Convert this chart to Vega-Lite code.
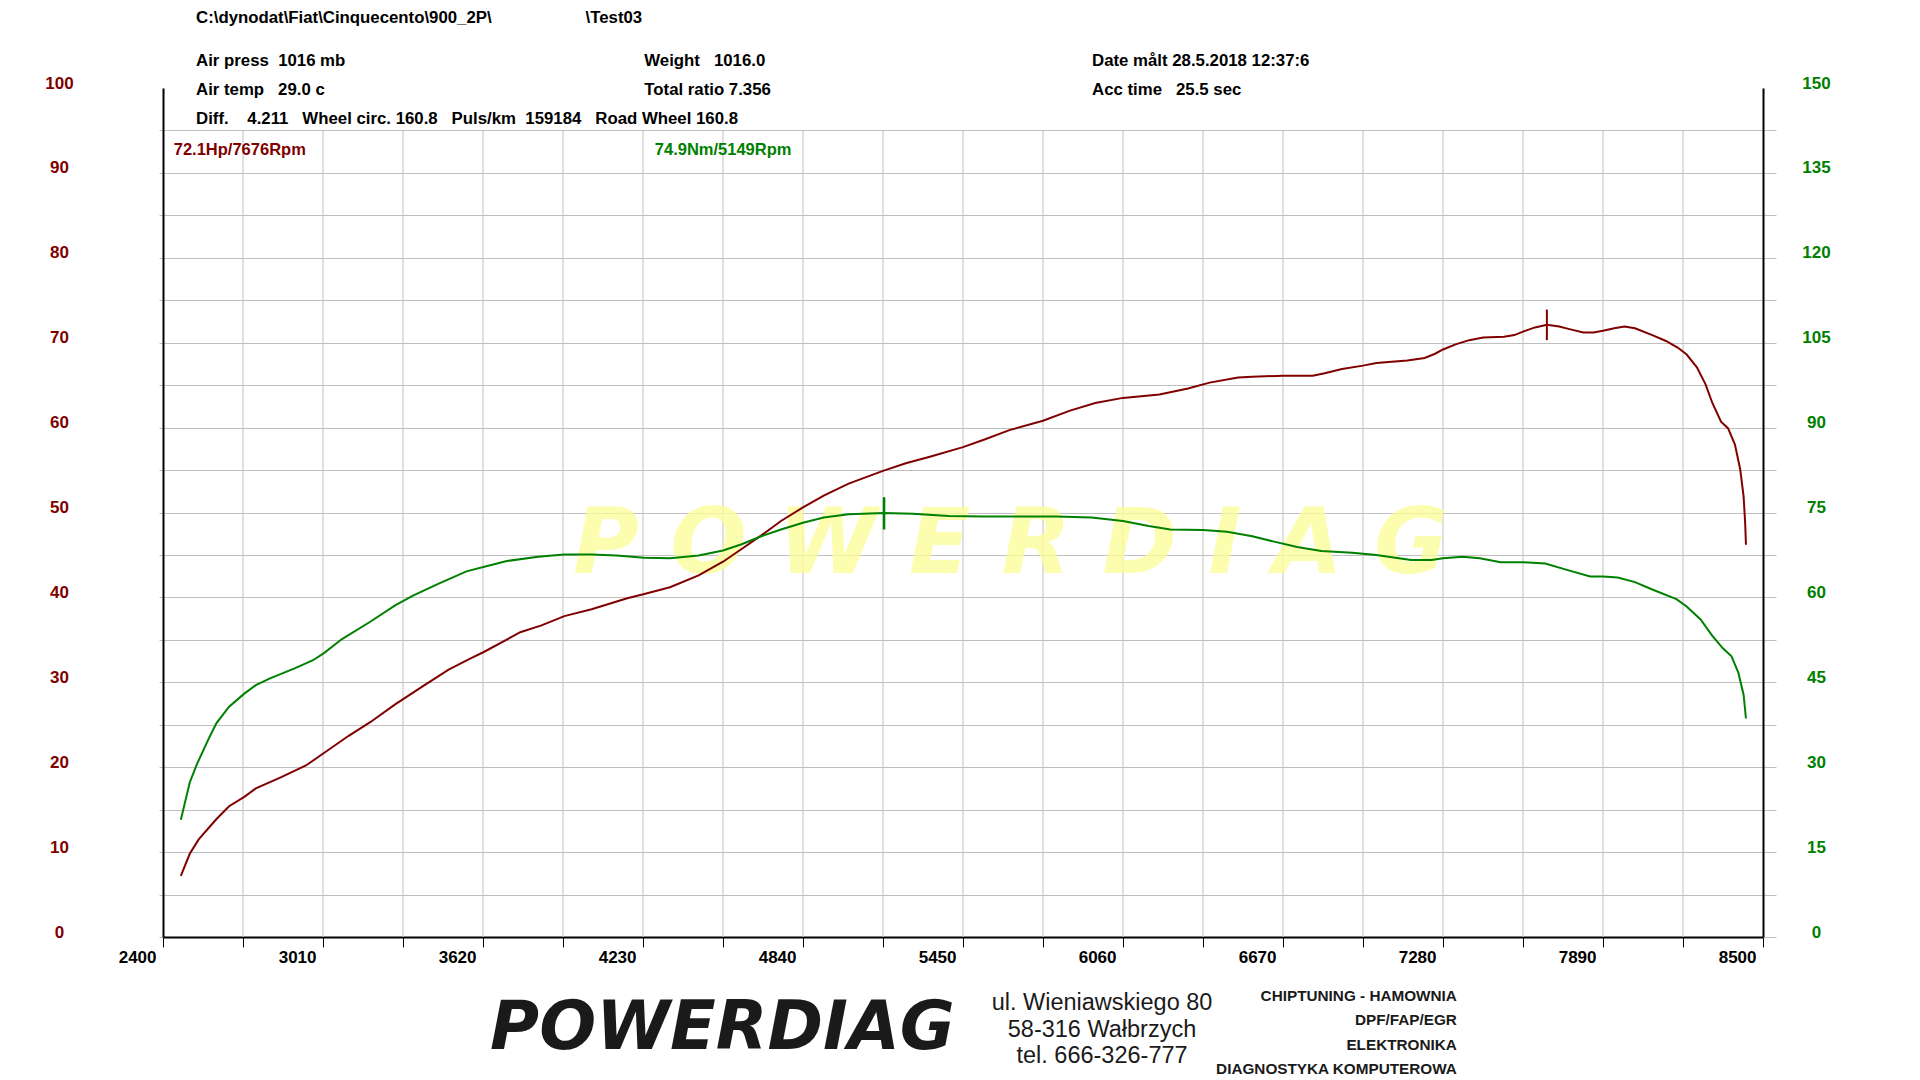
{
  "$schema": "https://vega.github.io/schema/vega-lite/v6.json",
  "width": 1600,
  "height": 849,
  "autosize": {"type": "none"},
  "padding": {"left": 163, "top": 88, "right": 157, "bottom": 143},
  "background": "white",
  "config": {"view": {"stroke": null}, "font": "Liberation Sans"},
  "resolve": {"scale": {"y": "independent"}},
  "layer": [
    {
      "layer": [
        {
          "data": {"values": [{"rpm":2705},{"rpm":3010},{"rpm":3315},{"rpm":3620},{"rpm":3925},{"rpm":4230},{"rpm":4535},{"rpm":4840},{"rpm":5145},{"rpm":5450},{"rpm":5755},{"rpm":6060},{"rpm":6365},{"rpm":6670},{"rpm":6975},{"rpm":7280},{"rpm":7585},{"rpm":7890},{"rpm":8195}]},
          "mark": {"type": "rule", "color": "#c0c0c0", "strokeWidth": 1},
          "encoding": {
            "x": {"field": "rpm", "type": "quantitative", "scale": {"domain": [2400, 8500], "nice": false}, "title": null},
            "y": {"datum": 0, "type": "quantitative", "scale": {"domain": [0, 100], "nice": false}, "title": null},
            "y2": {"datum": 95}
          }
        },
        {
          "data": {"values": [{"rpm": 3963, "hp": 42.9, "text": "P O W E R D I A G"}]},
          "mark": {"type": "text", "align": "left", "baseline": "alphabetic", "font": "DejaVu Sans", "fontSize": 90, "fontWeight": "bold", "fontStyle": "italic", "color": "#fdfd9c", "opacity": 0.8},
          "encoding": {
            "x": {"field": "rpm", "type": "quantitative", "scale": {"domain": [2400, 8500], "nice": false}, "title": null},
            "y": {"field": "hp", "type": "quantitative", "scale": {"domain": [0, 100], "nice": false}, "title": null},
            "text": {"field": "text"}
          }
        },
        {
          "data": {"values": [
            {"rpm":2468,"hp":7.2},{"rpm":2502,"hp":9.8},{"rpm":2536,"hp":11.5},{"rpm":2604,"hp":13.9},{"rpm":2652,"hp":15.4},{"rpm":2710,"hp":16.5},{"rpm":2754,"hp":17.5},{"rpm":2849,"hp":18.8},{"rpm":2945,"hp":20.2},{"rpm":3015,"hp":21.7},{"rpm":3108,"hp":23.7},{"rpm":3190,"hp":25.3},{"rpm":3285,"hp":27.4},{"rpm":3320,"hp":28.1},{"rpm":3394,"hp":29.6},{"rpm":3489,"hp":31.5},{"rpm":3571,"hp":32.8},{"rpm":3625,"hp":33.6},{"rpm":3762,"hp":35.9},{"rpm":3843,"hp":36.7},{"rpm":3930,"hp":37.8},{"rpm":4034,"hp":38.6},{"rpm":4170,"hp":39.9},{"rpm":4235,"hp":40.4},{"rpm":4333,"hp":41.2},{"rpm":4442,"hp":42.6},{"rpm":4535,"hp":44.2},{"rpm":4606,"hp":45.7},{"rpm":4681,"hp":47.3},{"rpm":4756,"hp":49.0},{"rpm":4840,"hp":50.6},{"rpm":4919,"hp":52.0},{"rpm":5014,"hp":53.4},{"rpm":5145,"hp":54.9},{"rpm":5232,"hp":55.8},{"rpm":5327,"hp":56.6},{"rpm":5450,"hp":57.7},{"rpm":5532,"hp":58.6},{"rpm":5627,"hp":59.7},{"rpm":5755,"hp":60.8},{"rpm":5858,"hp":62.0},{"rpm":5954,"hp":62.9},{"rpm":6060,"hp":63.5},{"rpm":6199,"hp":63.9},{"rpm":6308,"hp":64.6},{"rpm":6390,"hp":65.3},{"rpm":6499,"hp":65.9},{"rpm":6553,"hp":66.0},{"rpm":6670,"hp":66.1},{"rpm":6783,"hp":66.1},{"rpm":6829,"hp":66.4},{"rpm":6895,"hp":66.9},{"rpm":6975,"hp":67.3},{"rpm":7026,"hp":67.6},{"rpm":7144,"hp":67.9},{"rpm":7210,"hp":68.2},{"rpm":7250,"hp":68.7},{"rpm":7280,"hp":69.2},{"rpm":7328,"hp":69.8},{"rpm":7380,"hp":70.3},{"rpm":7433,"hp":70.6},{"rpm":7513,"hp":70.7},{"rpm":7552,"hp":70.9},{"rpm":7585,"hp":71.3},{"rpm":7631,"hp":71.8},{"rpm":7676,"hp":72.1},{"rpm":7723,"hp":71.9},{"rpm":7762,"hp":71.6},{"rpm":7815,"hp":71.2},{"rpm":7854,"hp":71.2},{"rpm":7890,"hp":71.4},{"rpm":7933,"hp":71.7},{"rpm":7972,"hp":71.9},{"rpm":8012,"hp":71.7},{"rpm":8078,"hp":70.9},{"rpm":8130,"hp":70.2},{"rpm":8176,"hp":69.4},{"rpm":8209,"hp":68.6},{"rpm":8248,"hp":67.1},{"rpm":8281,"hp":65.1},{"rpm":8307,"hp":62.9},{"rpm":8340,"hp":60.7},{"rpm":8367,"hp":59.9},{"rpm":8393,"hp":58.0},{"rpm":8413,"hp":55.1},{"rpm":8426,"hp":51.9},{"rpm":8432,"hp":48.8},{"rpm":8435,"hp":46.2}
          ]},
          "mark": {"type": "line", "color": "#800000", "strokeWidth": 2},
          "encoding": {
            "x": {
              "field": "rpm", "type": "quantitative",
              "scale": {"domain": [2400, 8500], "nice": false},
              "axis": {
                "orient": "bottom", "title": null,
                "values": [2400,2705,3010,3315,3620,3925,4230,4535,4840,5145,5450,5755,6060,6365,6670,6975,7280,7585,7890,8195,8500],
                "format": "d",
                "labelExpr": "(datum.value - 2400) % 610 == 0 ? datum.label : ''",
                "labelAlign": "right", "labelBaseline": "alphabetic", "labelOffset": -7, "labelPadding": 15,
                "labelFont": "Liberation Sans", "labelFontSize": 17, "labelFontWeight": "bold", "labelColor": "black",
                "labelOverlap": false, "labelFlush": false, "labelBound": false,
                "ticks": true, "tickSize": 10, "tickColor": "black", "tickWidth": 1,
                "grid": false, "domain": true, "domainColor": "black", "domainWidth": 2
              }
            },
            "y": {
              "field": "hp", "type": "quantitative",
              "scale": {"domain": [0, 100], "nice": false},
              "axis": {
                "orient": "left", "title": "Hp", "titleAngle": 0, "titleX": -108, "titleY": -50,
                "titleAlign": "center", "titleBaseline": "alphabetic",
                "titleFont": "Liberation Sans", "titleFontSize": 16, "titleFontWeight": "bold", "titleColor": "black",
                "values": [0,5,10,15,20,25,30,35,40,45,50,55,60,65,70,75,80,85,90,95,100],
                "labelExpr": "datum.value % 10 == 0 ? datum.label : ''",
                "labelAlign": "center", "labelBaseline": "alphabetic", "labelPadding": 100,
                "labelFont": "Liberation Sans", "labelFontSize": 17, "labelFontWeight": "bold", "labelColor": "#800000",
                "labelOverlap": false, "labelFlush": false, "labelBound": false,
                "grid": true, "gridColor": "#c0c0c0", "gridWidth": 1,
                "gridOpacity": {"condition": {"test": "datum.value == 100", "value": 0}, "value": 1},
                "ticks": true, "tickSize": 4, "tickColor": "#c0c0c0", "tickWidth": 1,
                "tickOpacity": {"condition": {"test": "datum.value == 100", "value": 0}, "value": 1},
                "domain": true, "domainColor": "black", "domainWidth": 2
              }
            }
          }
        },
        {
          "data": {"values": [{"rpm": 7676, "lo": 70.3, "hi": 73.9}]},
          "mark": {"type": "rule", "color": "#800000", "strokeWidth": 2},
          "encoding": {
            "x": {"field": "rpm", "type": "quantitative", "scale": {"domain": [2400, 8500], "nice": false}, "title": null},
            "y": {"field": "lo", "type": "quantitative", "scale": {"domain": [0, 100], "nice": false}, "title": null},
            "y2": {"field": "hi"}
          }
        },
        {
          "data": {"values": [
            {"rpm": 2526, "hp": 107.66, "text": "C:\\dynodat\\Fiat\\Cinquecento\\900_2P\\"},
            {"rpm": 4011, "hp": 107.66, "text": "\\Test03"},
            {"rpm": 2526, "hp": 102.59, "text": "Air press\u00a0 1016 mb"},
            {"rpm": 4235, "hp": 102.59, "text": "Weight\u00a0\u00a0 1016.0"},
            {"rpm": 5942, "hp": 102.59, "text": "Date målt 28.5.2018 12:37:6"},
            {"rpm": 2526, "hp": 99.18, "text": "Air temp\u00a0\u00a0 29.0 c"},
            {"rpm": 4235, "hp": 99.18, "text": "Total ratio 7.356"},
            {"rpm": 5942, "hp": 99.18, "text": "Acc time\u00a0\u00a0 25.5 sec"},
            {"rpm": 2526, "hp": 95.76, "text": "Diff.\u00a0\u00a0\u00a0 4.211\u00a0\u00a0 Wheel circ. 160.8\u00a0\u00a0 Puls/km\u00a0 159184\u00a0\u00a0 Road Wheel 160.8"}
          ]},
          "mark": {"type": "text", "align": "left", "baseline": "alphabetic", "font": "Liberation Sans", "fontSize": 16.8, "fontWeight": "bold", "color": "black"},
          "encoding": {
            "x": {"field": "rpm", "type": "quantitative", "scale": {"domain": [2400, 8500], "nice": false}, "title": null},
            "y": {"field": "hp", "type": "quantitative", "scale": {"domain": [0, 100], "nice": false}, "title": null},
            "text": {"field": "text"}
          }
        },
        {
          "data": {"values": [{"rpm": 2441, "hp": 92.11, "text": "72.1Hp/7676Rpm"}]},
          "mark": {"type": "text", "align": "left", "baseline": "alphabetic", "font": "Liberation Sans", "fontSize": 16.5, "fontWeight": "bold", "color": "#800000"},
          "encoding": {
            "x": {"field": "rpm", "type": "quantitative", "scale": {"domain": [2400, 8500], "nice": false}, "title": null},
            "y": {"field": "hp", "type": "quantitative", "scale": {"domain": [0, 100], "nice": false}, "title": null},
            "text": {"field": "text"}
          }
        },
        {
          "data": {"values": [{"rpm": 4275, "hp": 92.11, "text": "74.9Nm/5149Rpm"}]},
          "mark": {"type": "text", "align": "left", "baseline": "alphabetic", "font": "Liberation Sans", "fontSize": 16.5, "fontWeight": "bold", "color": "#008000"},
          "encoding": {
            "x": {"field": "rpm", "type": "quantitative", "scale": {"domain": [2400, 8500], "nice": false}, "title": null},
            "y": {"field": "hp", "type": "quantitative", "scale": {"domain": [0, 100], "nice": false}, "title": null},
            "text": {"field": "text"}
          }
        },
        {
          "data": {"values": [{"rpm": 3647, "hp": -13.19, "text": "POWERDIAG"}]},
          "mark": {"type": "text", "align": "left", "baseline": "alphabetic", "font": "DejaVu Sans", "fontSize": 67, "fontWeight": "bold", "fontStyle": "italic", "color": "#1a1a1a"},
          "encoding": {
            "x": {"field": "rpm", "type": "quantitative", "scale": {"domain": [2400, 8500], "nice": false}, "title": null},
            "y": {"field": "hp", "type": "quantitative", "scale": {"domain": [0, 100], "nice": false}, "title": null},
            "text": {"field": "text"}
          }
        },
        {
          "data": {"values": [
            {"rpm": 5980, "hp": -7.77, "text": "ul. Wieniawskiego 80"},
            {"rpm": 5980, "hp": -10.95, "text": "58-316 Wałbrzych"},
            {"rpm": 5980, "hp": -14.02, "text": "tel. 666-326-777"}
          ]},
          "mark": {"type": "text", "align": "center", "baseline": "middle", "font": "Liberation Sans", "fontSize": 23.5, "color": "#1a1a1a"},
          "encoding": {
            "x": {"field": "rpm", "type": "quantitative", "scale": {"domain": [2400, 8500], "nice": false}, "title": null},
            "y": {"field": "hp", "type": "quantitative", "scale": {"domain": [0, 100], "nice": false}, "title": null},
            "text": {"field": "text"}
          }
        },
        {
          "data": {"values": [
            {"rpm": 7333, "hp": -6.95, "text": "CHIPTUNING - HAMOWNIA"},
            {"rpm": 7333, "hp": -9.78, "text": "DPF/FAP/EGR"},
            {"rpm": 7333, "hp": -12.72, "text": "ELEKTRONIKA"},
            {"rpm": 7333, "hp": -15.55, "text": "DIAGNOSTYKA KOMPUTEROWA"}
          ]},
          "mark": {"type": "text", "align": "right", "baseline": "middle", "font": "Liberation Sans", "fontSize": 15.3, "fontWeight": "bold", "color": "#1a1a1a"},
          "encoding": {
            "x": {"field": "rpm", "type": "quantitative", "scale": {"domain": [2400, 8500], "nice": false}, "title": null},
            "y": {"field": "hp", "type": "quantitative", "scale": {"domain": [0, 100], "nice": false}, "title": null},
            "text": {"field": "text"}
          }
        }
      ]
    },
    {
      "layer": [
        {
          "data": {"values": [
            {"rpm":2468,"nm":20.7},{"rpm":2502,"nm":27.3},{"rpm":2529,"nm":30.5},{"rpm":2577,"nm":35.3},{"rpm":2604,"nm":37.8},{"rpm":2652,"nm":40.7},{"rpm":2710,"nm":43.0},{"rpm":2754,"nm":44.5},{"rpm":2808,"nm":45.7},{"rpm":2904,"nm":47.5},{"rpm":2972,"nm":48.9},{"rpm":3015,"nm":50.2},{"rpm":3081,"nm":52.6},{"rpm":3190,"nm":55.7},{"rpm":3285,"nm":58.6},{"rpm":3353,"nm":60.3},{"rpm":3449,"nm":62.4},{"rpm":3557,"nm":64.6},{"rpm":3625,"nm":65.4},{"rpm":3707,"nm":66.4},{"rpm":3830,"nm":67.2},{"rpm":3930,"nm":67.6},{"rpm":4034,"nm":67.6},{"rpm":4129,"nm":67.4},{"rpm":4235,"nm":67.0},{"rpm":4333,"nm":66.9},{"rpm":4442,"nm":67.4},{"rpm":4535,"nm":68.3},{"rpm":4606,"nm":69.4},{"rpm":4681,"nm":70.8},{"rpm":4756,"nm":72.0},{"rpm":4840,"nm":73.2},{"rpm":4919,"nm":74.1},{"rpm":5014,"nm":74.7},{"rpm":5149,"nm":74.9},{"rpm":5259,"nm":74.8},{"rpm":5395,"nm":74.4},{"rpm":5532,"nm":74.3},{"rpm":5668,"nm":74.3},{"rpm":5804,"nm":74.3},{"rpm":5940,"nm":74.1},{"rpm":6060,"nm":73.5},{"rpm":6158,"nm":72.6},{"rpm":6240,"nm":72.0},{"rpm":6365,"nm":71.9},{"rpm":6457,"nm":71.6},{"rpm":6553,"nm":70.8},{"rpm":6632,"nm":69.9},{"rpm":6724,"nm":68.9},{"rpm":6816,"nm":68.2},{"rpm":6934,"nm":67.9},{"rpm":7026,"nm":67.5},{"rpm":7158,"nm":66.6},{"rpm":7237,"nm":66.6},{"rpm":7280,"nm":66.9},{"rpm":7354,"nm":67.2},{"rpm":7420,"nm":66.9},{"rpm":7500,"nm":66.2},{"rpm":7585,"nm":66.2},{"rpm":7670,"nm":66.0},{"rpm":7749,"nm":64.9},{"rpm":7841,"nm":63.7},{"rpm":7890,"nm":63.7},{"rpm":7946,"nm":63.5},{"rpm":8012,"nm":62.7},{"rpm":8078,"nm":61.4},{"rpm":8170,"nm":59.7},{"rpm":8209,"nm":58.4},{"rpm":8262,"nm":56.1},{"rpm":8307,"nm":53.2},{"rpm":8347,"nm":51.0},{"rpm":8380,"nm":49.6},{"rpm":8406,"nm":46.7},{"rpm":8426,"nm":42.8},{"rpm":8435,"nm":38.6}
          ]},
          "mark": {"type": "line", "color": "#008000", "strokeWidth": 2},
          "encoding": {
            "x": {"field": "rpm", "type": "quantitative", "scale": {"domain": [2400, 8500], "nice": false}, "title": null},
            "y": {
              "field": "nm", "type": "quantitative",
              "scale": {"domain": [0, 150], "nice": false},
              "axis": {
                "orient": "right", "title": "Nm", "titleAngle": 0, "titleX": 53, "titleY": -47,
                "titleAlign": "center", "titleBaseline": "alphabetic",
                "titleFont": "Liberation Sans", "titleFontSize": 16, "titleFontWeight": "bold", "titleColor": "black",
                "values": [0,7.5,15,22.5,30,37.5,45,52.5,60,67.5,75,82.5,90,97.5,105,112.5,120,127.5,135,142.5,150],
                "labelExpr": "datum.value % 15 == 0 ? datum.label : ''",
                "labelAlign": "center", "labelBaseline": "alphabetic", "labelPadding": 40,
                "labelFont": "Liberation Sans", "labelFontSize": 17, "labelFontWeight": "bold", "labelColor": "#008000",
                "labelOverlap": false, "labelFlush": false, "labelBound": false,
                "grid": false,
                "ticks": true, "tickSize": 13, "tickColor": "#c0c0c0", "tickWidth": 1,
                "tickOpacity": {"condition": {"test": "datum.value == 150", "value": 0}, "value": 1},
                "domain": true, "domainColor": "black", "domainWidth": 2
              }
            }
          }
        },
        {
          "data": {"values": [{"rpm": 5149, "lo": 72.0, "hi": 77.7}]},
          "mark": {"type": "rule", "color": "#008000", "strokeWidth": 2.5},
          "encoding": {
            "x": {"field": "rpm", "type": "quantitative", "scale": {"domain": [2400, 8500], "nice": false}, "title": null},
            "y": {"field": "lo", "type": "quantitative", "scale": {"domain": [0, 150], "nice": false}, "title": null},
            "y2": {"field": "hi"}
          }
        }
      ]
    }
  ]
}
